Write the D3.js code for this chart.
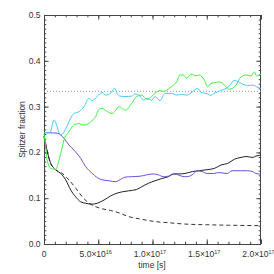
<!DOCTYPE html>
<html><head><meta charset="utf-8">
<script src="https://cdn.jsdelivr.net/npm/d3@7"></script>
<style>
html,body{margin:0;padding:0;background:#fff;overflow:hidden}
text{font-family:"Liberation Sans",Arial,sans-serif;fill:#333}
</style></head>
<body><svg id="c" width="274" height="274"></svg>
<script>
// ---- data (time in units of 1e16 s) ----
const cyanT = [0,0.55,0.92,1.54,2.76,3.23,3.69,4.15,4.45,4.91,5.37,5.69,6.15,6.52,6.75,7.0,7.47,8.08,8.39,8.85,9.15,9.47,9.93,10.23,10.69,11.15,11.77,12.23,12.69,13.15,13.5,14.17,14.47,14.93,15.39,15.7,16.16,16.62,17.08,17.54,17.94,18.31,18.77,19.24,19.7,20.0];
const cyanV = [0.243,0.243,0.271,0.238,0.285,0.289,0.300,0.318,0.313,0.322,0.331,0.325,0.330,0.340,0.328,0.323,0.322,0.323,0.3275,0.323,0.314,0.318,0.314,0.322,0.313,0.329,0.329,0.325,0.327,0.325,0.329,0.340,0.331,0.329,0.325,0.329,0.334,0.338,0.345,0.357,0.354,0.349,0.346,0.347,0.342,0.340];

const greenT = [0,0.14,0.28,0.62,1.08,1.38,1.69,1.84,2.30,2.76,3.23,3.53,3.84,4.30,4.76,5.07,5.37,5.83,6.29,6.61,6.91,7.2,7.5,8.08,8.54,9.0,9.47,9.93,10.23,10.69,11.0,11.45,11.92,12.23,12.53,12.84,13.15,13.55,14.01,14.31,14.77,15.09,15.39,15.70,16.16,16.47,16.77,17.08,17.39,17.70,18.16,18.62,19.08,19.38,19.60,20.0];
const greenV = [0.240,0.215,0.185,0.165,0.163,0.183,0.212,0.227,0.245,0.260,0.263,0.260,0.260,0.267,0.278,0.294,0.296,0.289,0.285,0.292,0.300,0.296,0.292,0.307,0.322,0.325,0.316,0.322,0.329,0.335,0.333,0.338,0.347,0.354,0.369,0.369,0.362,0.371,0.367,0.369,0.358,0.343,0.351,0.352,0.354,0.351,0.343,0.338,0.340,0.347,0.365,0.369,0.367,0.376,0.367,0.371];

const blueT = [0,1.23,1.84,2.30,2.76,3.38,3.84,4.45,5.22,5.99,6.61,6.91,7.47,8.08,8.85,9.47,10.08,10.54,11.0,11.45,12.07,12.69,13.15,13.66,14.12,14.58,15.04,15.65,16.11,16.88,17.34,18.11,18.72,19.24,19.54,19.85,20.0];
const blueV = [0.243,0.242,0.231,0.216,0.205,0.187,0.169,0.154,0.141,0.138,0.136,0.139,0.146,0.147,0.148,0.151,0.153,0.151,0.147,0.148,0.153,0.148,0.147,0.151,0.160,0.158,0.154,0.154,0.156,0.154,0.160,0.160,0.160,0.158,0.154,0.153,0.153];

const blackT = [0,0.62,1.08,1.54,2.00,2.46,2.92,3.38,3.84,4.45,4.91,5.53,6.15,6.61,7.22,7.77,8.54,9.00,9.62,10.23,10.85,11.46,11.92,12.53,12.99,13.66,14.31,14.93,15.70,16.31,16.93,17.54,18.16,18.62,19.24,19.54,19.9,20.0];
const blackV = [0.235,0.176,0.162,0.154,0.140,0.118,0.103,0.092,0.089,0.087,0.089,0.096,0.105,0.110,0.114,0.116,0.119,0.125,0.1325,0.138,0.143,0.147,0.153,0.153,0.154,0.158,0.160,0.162,0.165,0.1725,0.176,0.185,0.189,0.191,0.189,0.192,0.194,0.195];

const dashT = [0,0.62,1.08,1.69,2.30,2.92,3.53,4.15,4.76,5.53,6.15,6.91,7.77,9.00,10.23,11.46,12.69,13.46,15.0,17.0,20.0];
const dashV = [0.235,0.176,0.162,0.154,0.140,0.122,0.103,0.089,0.0815,0.076,0.073,0.068,0.060,0.054,0.049,0.0465,0.044,0.043,0.042,0.041,0.040];

const refLevel = 1/3;

const xTicks = [0,5e16,1e17,1.5e17,2e17];
const xTickMant = ["0","5.0","1.0","1.5","2.0"];
const xTickExp = ["","16","17","17","17"];
const yTicks = [0,0.1,0.2,0.3,0.4,0.5];
const yTickLabels = ["0.0","0.1","0.2","0.3","0.4","0.5"];

// ---- layout ----
const L=44, R=261, T=15, B=244;
const svg = d3.select("#c");
const x = d3.scaleLinear().domain([0,2e17]).range([L,R]);
const y = d3.scaleLinear().domain([0,0.5]).range([B,T]);

const axisCol = "#444";
const xMinor = d3.range(0,2e17+1,1e16);
const yMinor = d3.range(0,0.5001,0.01);

function styleAxis(g){ g.select(".domain").remove(); g.selectAll("line").attr("stroke",axisCol).attr("stroke-width",1); g.selectAll("text").remove(); }

svg.append("g").attr("transform",`translate(0,${B})`).call(d3.axisBottom(x).tickValues(xMinor).tickSize(-2.3)).call(styleAxis);
svg.append("g").attr("transform",`translate(0,${B})`).call(d3.axisBottom(x).tickValues(xTicks).tickSize(-4.6)).call(styleAxis);
svg.append("g").attr("transform",`translate(0,${T})`).call(d3.axisTop(x).tickValues(xMinor).tickSize(-2.3)).call(styleAxis);
svg.append("g").attr("transform",`translate(0,${T})`).call(d3.axisTop(x).tickValues(xTicks).tickSize(-4.6)).call(styleAxis);
svg.append("g").attr("transform",`translate(${L},0)`).call(d3.axisLeft(y).tickValues(yMinor).tickSize(-2.3)).call(styleAxis);
svg.append("g").attr("transform",`translate(${L},0)`).call(d3.axisLeft(y).tickValues(yTicks).tickSize(-4.6)).call(styleAxis);
svg.append("g").attr("transform",`translate(${R},0)`).call(d3.axisRight(y).tickValues(yMinor).tickSize(-2.3)).call(styleAxis);
svg.append("g").attr("transform",`translate(${R},0)`).call(d3.axisRight(y).tickValues(yTicks).tickSize(-4.6)).call(styleAxis);

svg.append("rect").attr("x",L+0.5).attr("y",T+0.5).attr("width",R-L-1).attr("height",B-T)
  .attr("fill","none").attr("stroke",axisCol).attr("stroke-width",1);

// tick labels
xTicks.forEach((v,i)=>{
  const t = svg.append("text").attr("y",257).attr("font-size",8.5).attr("text-anchor","middle")
    .attr("x", x(v) - (xTickExp[i]?2.5:0));
  if(xTickExp[i]){
    t.append("tspan").text(xTickMant[i]+"×10");
    t.append("tspan").attr("font-size",5.5).attr("dy",-3.4).text(xTickExp[i]);
  } else t.text(xTickMant[i]);
});
yTicks.forEach((v,i)=>{
  svg.append("text").attr("x",40.5).attr("y",y(v)+3).attr("font-size",8.5).attr("text-anchor","end").text(yTickLabels[i]);
});
svg.append("text").attr("x",152).attr("y",268).attr("font-size",8.5).attr("text-anchor","middle").text("time [s]");
svg.append("text").attr("transform",`translate(25,${(T+B)/2}) rotate(-90)`).attr("font-size",8.5).attr("text-anchor","middle").text("Spitzer fraction");

// reference line
svg.append("line").attr("x1",x(0)).attr("x2",x(2e17)).attr("y1",y(refLevel)).attr("y2",y(refLevel))
  .attr("stroke","#999").attr("stroke-width",1).attr("stroke-dasharray","1,2");

const g = svg.append("g");
const line = d3.line().x(d=>x(d[0]*1e16)).y(d=>y(d[1])).curve(d3.curveMonotoneX);
function draw(ts,vs,col,dash){
  g.append("path").datum(ts.map((t,i)=>[t,vs[i]])).attr("d",line).attr("fill","none")
   .attr("stroke",col).attr("stroke-width",1).attr("stroke-dasharray",dash||null);
}
draw(dashT,dashV,"#333","4,3");
draw(blackT,blackV,"#222");
draw(blueT,blueV,"#6a50e0");
draw(greenT,greenV,"#44ee44");
draw(cyanT,cyanV,"#44ccff");
</script></body></html>
